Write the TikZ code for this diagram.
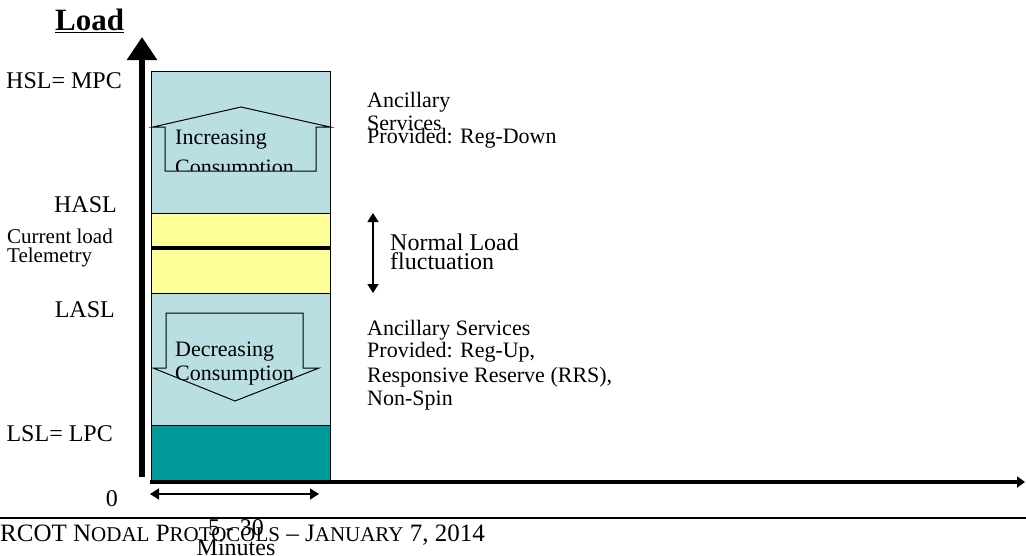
\documentclass[tikz,border=0pt]{standalone}
\usepackage{fontspec}
\setmainfont{Liberation Serif}
\usetikzlibrary{arrows.meta}
\tikzset{>=latex}
\definecolor{bandblue}{RGB}{185,223,227}
\definecolor{bandyellow}{RGB}{255,255,153}
\definecolor{bandteal}{RGB}{0,153,153}
\newcommand{\fsz}[2]{\fontsize{#1}{#2}\selectfont}
\newcommand{\smc}[1]{{\fontsize{21}{21}\selectfont #1}}

\begin{document}
\begin{tikzpicture}[x=1pt,y=-1pt,
    band/.style={draw=black,line width=1pt},
    lvl/.style={inner sep=0pt,anchor=base east,font=\fsz{24}{24}},
    txt/.style={inner sep=0pt,anchor=base west,align=left,font=\fsz{22}{23}},
    dbl/.style={{Triangle[width=11pt,length=9pt]}-{Triangle[width=11pt,length=9pt]},line width=1.5pt}]
            \useasboundingbox (0,0) rectangle (1026,555);
            % bands
            \draw[band,fill=bandblue] (151,71) rectangle (330,213);
            \draw[band,fill=bandyellow] (151,213) rectangle (330,293);
            \draw[band,fill=bandblue] (151,293) rectangle (330,425);
            \draw[band,fill=bandteal] (151,425) rectangle (330,481);
            \draw[line width=4pt] (151,248) -- (330,248);
            % block arrows
            \draw[band,fill=bandblue] (165,171) -- (165,127) -- (153,127) -- (241,107)
                -- (330,127) -- (316,127) -- (316,171) -- cycle;
            \begin{scope}
                \clip (165,170) -- (165,127) -- (316,127) -- (316,170) -- cycle;
                \node[txt,font=\fsz{22}{30}] (inc) at (175,174) {Increasing\\Consumption};
            \end{scope}
            \draw[band,fill=bandblue] (166,313) -- (303,313) -- (303,368) -- (319,368)
                -- (235,401) -- (153,368) -- (166,368) -- cycle;
            \node[txt,font=\fsz{22}{24}] (dec) at (175,380) {Decreasing\\Consumption};
            % axes
            \coordinate (origin) at (142,477);
            \coordinate (ytip) at (142,37);
            \coordinate (xstart) at (150,482);
            \coordinate (xtip) at (1025,482);
            \draw[-{Triangle[width=29pt,length=23pt]},line width=6pt] (origin) -- (ytip);
            \draw[-{Triangle[width=11pt,length=8pt]},line width=4pt] (xstart) -- (xtip);
            \node[inner sep=0pt,anchor=base west,font=\fsz{31}{31}\bfseries] (load) at (55,30) {\underline{Load}};
            % levels
            \node[lvl] (hsl) at (122,88) {HSL= MPC};
            \node[lvl] (hasl) at (117,212) {HASL};
            \node[txt,font=\fsz{21}{19}] (tele) at (7,262) {Current load\\Telemetry};
            \node[lvl] (lasl) at (115,317) {LASL};
            \node[lvl] (lsl) at (113,441) {LSL= LPC};
            \node[lvl] (zero) at (118,506) {0};
            % services
            \node[txt] (asdown) at (367,130) {Ancillary\\Services};
            \node[txt] (regdown) at (367,143) {Provided: Reg-Down};
            \coordinate (nftop) at (373,213);
            \coordinate (nfbot) at (373,293);
            \draw[dbl] (nftop) -- (nfbot);
            \node[txt,font=\fsz{24}{16}] (normal) at (390,269) {Normal Load\\fluctuation};
            \node[txt,font=\fsz{22}{19}] (asup) at (367,357) {Ancillary Services\\Provided: Reg-Up,};
            \node[txt] (rrs) at (367,405) {Responsive Reserve (RRS),\\Non-Spin};
            % time span
            \coordinate (tleft) at (150,494);
            \coordinate (tright) at (319,494);
            \draw[dbl] (tleft) -- (tright);
            % footer
            \coordinate (fl) at (0,518);
            \coordinate (fr) at (1026,518);
            \draw[line width=1.5pt] (fl) -- (fr);
            \node[inner sep=0pt,anchor=base west,font=\fsz{25}{25}] (foot) at (0,541)
                {RCOT N\smc{ODAL} P\smc{ROTOCOLS} – J\smc{ANUARY} 7, 2014};
            \node[inner sep=0pt,anchor=base,align=center,font=\fsz{24}{20}] (span) at (236,555) {5 - 30\\Minutes};
        \end{tikzpicture}
\end{document}
